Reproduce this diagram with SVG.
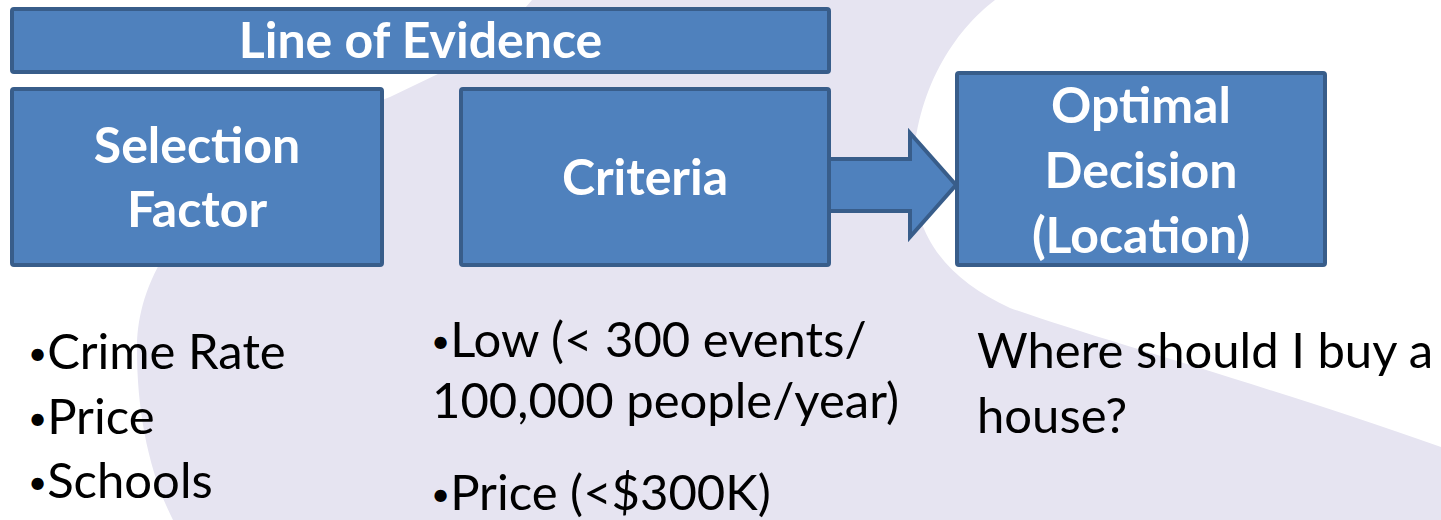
<svg xmlns="http://www.w3.org/2000/svg" width="1441" height="520" viewBox="0 0 1441 520">
<style>
.box{fill:#4F81BD;stroke:#385D8A;stroke-width:4}
.t{font-family:Lato,"Open Sans",sans-serif;font-weight:bold;font-size:50px;fill:#FFFFFF;text-anchor:middle}
.b{font-family:Lato,"Open Sans",sans-serif;font-size:49px;fill:#000000}
.d{font-size:33px}
</style>
<rect width="1441" height="520" fill="#FFFFFF"/>
<path id="swoosh" fill="#E6E4F1" d="M530,0 L995,0 C955,30 915,90 913,170 C913,240 950,280 1010,308 C1100,340 1250,380 1441,447 L1441,520 L173,520 C148,470 137,410 137,350 C136,290 170,180 390,97 L440,73 Q500,40 532,0 Z"/>
<g id="connectors">
<polygon class="box" stroke-linejoin="miter" points="820,159 910,159 910,133 956,185 910,237 910,211 820,211"/>
</g>
<g id="line-of-evidence">
<rect class="box" x="12" y="9" width="817" height="63" rx="2"/>
<text class="t" x="420.5" y="58">Line of Evidence</text>
</g>
<g id="selection-factor">
<rect class="box" x="12" y="89" width="370" height="176" rx="2"/>
<text class="t" x="197" y="163">Selection</text>
<text class="t" x="197" y="227">Factor</text>
</g>
<g id="criteria">
<rect class="box" x="461" y="89" width="368" height="176" rx="2"/>
<text class="t" x="645" y="195">Criteria</text>
</g>
<g id="optimal-decision">
<rect class="box" x="957" y="73" width="368" height="192" rx="2"/>
<text class="t" x="1141" y="123">Optimal</text>
<text class="t" x="1141" y="188">Decision</text>
<text class="t" x="1141" y="253">(Location)</text>
</g>
<g id="factor-list">
<text class="b" x="28" y="369"><tspan class="d" dy="-4">•</tspan><tspan dy="4">Crime Rate</tspan></text>
<text class="b" x="28" y="434"><tspan class="d" dy="-4">•</tspan><tspan dy="4">Price</tspan></text>
<text class="b" x="28" y="498"><tspan class="d" dy="-4">•</tspan><tspan dy="4">Schools</tspan></text>
</g>
<g id="criteria-list">
<text class="b" x="431" y="357"><tspan class="d" dy="-4">•</tspan><tspan dy="4">Low (&lt; 300 events/</tspan></text>
<text class="b" x="432" y="418">100,000 people/year)</text>
<text class="b" x="431" y="510"><tspan class="d" dy="-4">•</tspan><tspan dy="4">Price (&lt;$300K)</tspan></text>
</g>
<g id="question">
<text class="b" x="977" y="368">Where should I buy a</text>
<text class="b" x="977" y="433">house?</text>
</g>
</svg>
